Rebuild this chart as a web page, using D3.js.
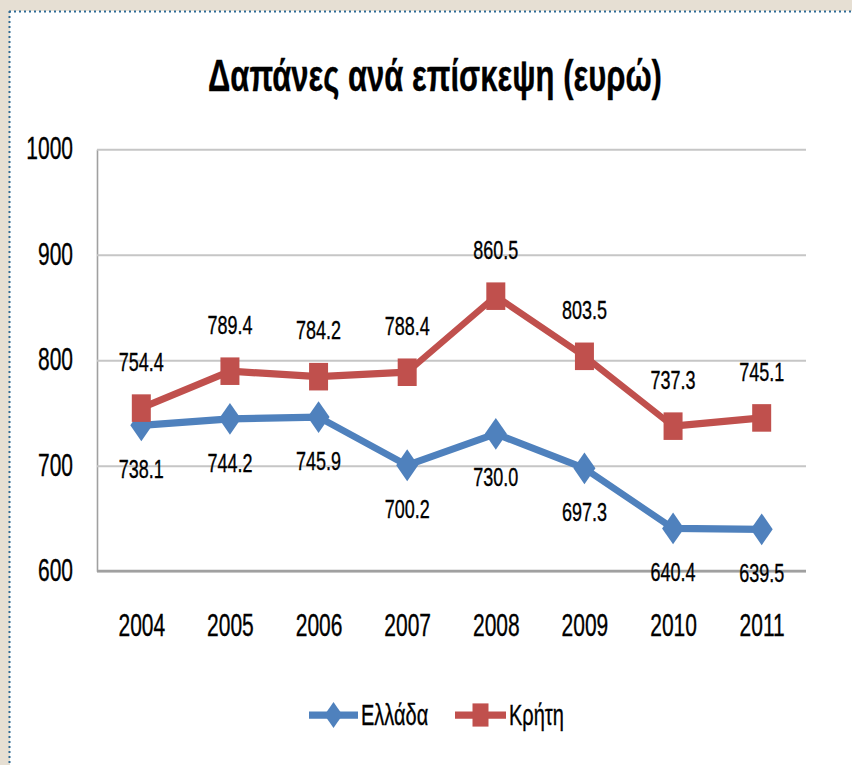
<!DOCTYPE html>
<html>
<head>
<meta charset="utf-8">
<script src="https://cdn.jsdelivr.net/npm/d3@7"></script>
<style>
	html, body { margin: 0; padding: 0; background: #e6dfd3; }
	svg { display: block; }
	text { font-family: "Liberation Sans", Arial, sans-serif; fill: #000; stroke: #000; stroke-width: 0.25px; }
</style>
</head>
<body>
<div id="graphic"></div>
<script>
// chart values
const years = ['2004', '2005', '2006', '2007', '2008', '2009', '2010', '2011'];
const ellada = [738.1, 744.2, 745.9, 700.2, 730.0, 697.3, 640.4, 639.5];
const kriti = [754.4, 789.4, 784.2, 788.4, 860.5, 803.5, 737.3, 745.1];
const yTicks = [600, 700, 800, 900, 1000];
const seriesNames = ['Ελλάδα', 'Κρήτη'];
const colours = ['#4f81bd', '#c0504d'];
const titleText = 'Δαπάνες ανά επίσκεψη (ευρώ)';

const width = 852, height = 765;
// the original picture is stretched vertically, so draw in a squashed space and scale it back up
const K = 1.45;

let svg = d3.select('#graphic').append('svg')
	.attr('width', width)
	.attr('height', height);

// frame: beige page, white sheet, dotted border
svg.append('rect').attr('width', width).attr('height', height).attr('fill', '#e6dfd3');
svg.append('rect').attr('x', 10).attr('y', 11).attr('width', width - 10).attr('height', height - 11).attr('fill', '#fff');
svg.append('line').attr('x1', 9).attr('x2', width).attr('y1', 11.5).attr('y2', 11.5)
	.attr('stroke', '#2f6a94').attr('stroke-width', 2).attr('stroke-dasharray', '2,3');
svg.append('line').attr('x1', 9.5).attr('x2', 9.5).attr('y1', 11).attr('y2', height)
	.attr('stroke', '#2f6a94').attr('stroke-width', 2).attr('stroke-dasharray', '2,3');

let g = svg.append('g').attr('transform', 'scale(1,' + K + ')');

let margin = { left: 97, right: 806, top: 149 / K, bottom: 571 / K };

const x = d3.scalePoint()
	.domain(years)
	.range([margin.left, margin.right])
	.padding(0.5);

const y = d3.scaleLinear()
	.domain([600, 1000])
	.range([margin.bottom, margin.top]);

// title
g.append('text')
	.attr('x', 435)
	.attr('y', 63)
	.attr('text-anchor', 'middle')
	.style('font-size', '31px')
	.style('font-weight', 'bold')
	.text(titleText);

// y axis with gridlines
let yAxis = g.append('g')
	.attr('class', 'y axis')
	.attr('transform', 'translate(' + margin.left + ',0)')
	.call(d3.axisLeft(y).tickValues(yTicks).tickFormat(d3.format('d')).tickSize(-(margin.right - margin.left)).tickSizeOuter(0).tickPadding(24));

yAxis.select('.domain').attr('stroke', '#a0a0a0').attr('stroke-width', 1.6);
yAxis.selectAll('.tick line').attr('stroke', '#c6c6c6').attr('stroke-width', 1.4);
yAxis.selectAll('text').style('font-size', '21px').attr('fill', '#000');

// x axis
let xAxis = g.append('g')
	.attr('class', 'x axis')
	.attr('transform', 'translate(0,' + margin.bottom + ')')
	.call(d3.axisBottom(x).tickSize(0).tickPadding(30));

xAxis.select('.domain')
	.attr('d', 'M' + margin.left + ',0H' + margin.right)
	.attr('stroke', '#a0a0a0').attr('stroke-width', 1.6);
xAxis.selectAll('text').style('font-size', '21px').attr('fill', '#000');

// markers
const diamond = (r) => 'M0,' + (-r) + 'L' + r + ',0L0,' + r + 'L' + (-r) + ',0Z';
const square = (r) => 'M' + (-r) + ',' + (-r) + 'H' + r + 'V' + r + 'H' + (-r) + 'Z';
const markers = [diamond(11), square(9.5)];

let series = [ellada, kriti];
let line = d3.line().x((d, i) => x(years[i])).y((d) => y(d));

series.forEach(function (values, k) {
	let s = g.append('g').attr('class', 'series');

	s.append('path')
		.datum(values)
		.attr('d', line)
		.attr('fill', 'none')
		.attr('stroke', colours[k])
		.attr('stroke-width', 5)
		.attr('stroke-linejoin', 'round');

	s.selectAll('path.marker')
		.data(values)
		.join('path')
		.attr('class', 'marker')
		.attr('transform', (d, i) => 'translate(' + x(years[i]) + ',' + y(d) + ')')
		.attr('d', markers[k])
		.attr('fill', colours[k]);

	// value labels: Ελλάδα below, Κρήτη above
	s.selectAll('text')
		.data(values)
		.join('text')
		.attr('x', (d, i) => x(years[i]))
		.attr('y', (d) => y(d) + (k == 0 ? 30 : -32))
		.attr('dy', '0.35em')
		.attr('text-anchor', 'middle')
		.style('font-size', '18px')
		.text((d) => d3.format('.1f')(d));
});

// legend
let legendY = 715 / K;
let legendItems = [
	{ name: seriesNames[0], x0: 309, x1: 358 },
	{ name: seriesNames[1], x0: 455, x1: 506 }
];

legendItems.forEach(function (d, k) {
	let l = g.append('g').attr('class', 'legend--item');
	l.append('line')
		.attr('x1', d.x0).attr('x2', d.x1)
		.attr('y1', legendY).attr('y2', legendY)
		.attr('stroke', colours[k]).attr('stroke-width', 5);
	l.append('path')
		.attr('transform', 'translate(' + (d.x0 + d.x1) / 2 + ',' + legendY + ')')
		.attr('d', k == 0 ? diamond(9) : square(8))
		.attr('fill', colours[k]);
	l.append('text')
		.attr('x', d.x1 + 3)
		.attr('y', legendY)
		.attr('dy', '0.35em')
		.style('font-size', '20px')
		.text(d.name);
});
</script>
</body>
</html>
